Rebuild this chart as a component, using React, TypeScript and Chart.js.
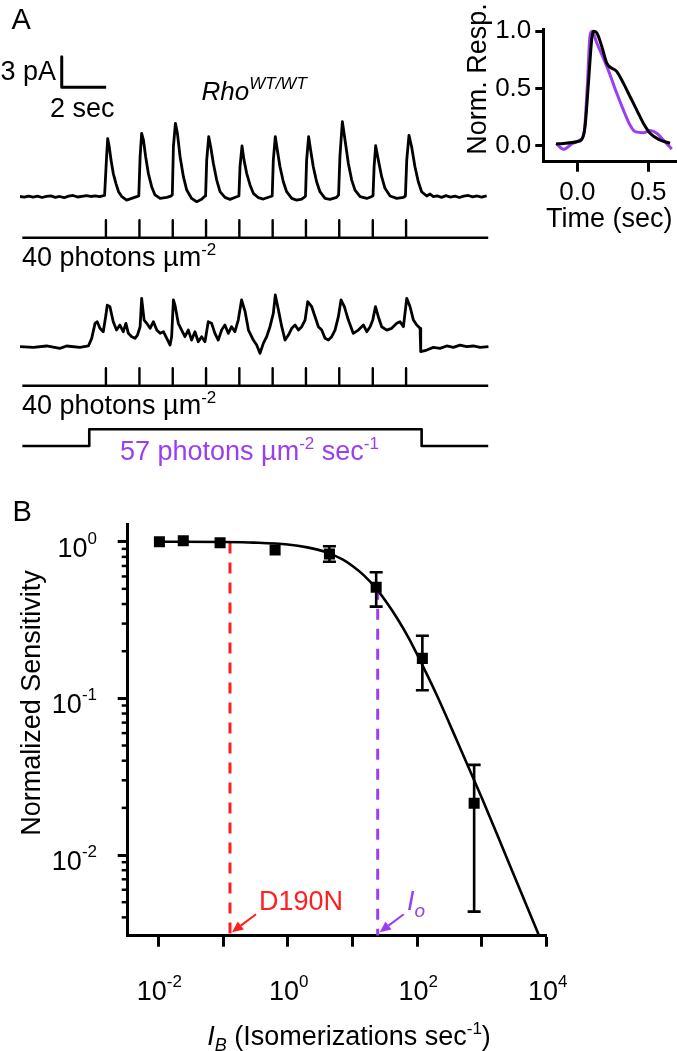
import React, { useEffect, useRef } from "react";
import { Chart, registerables } from "chart.js";
Chart.register(...registerables);

const FONT = "'Liberation Sans', Arial, Helvetica, sans-serif";
const PURPLE = "#9a3ff0";
const RED = "#ff1f1f";

// ---------------- Panel A : flash responses (time in s, current in pA) ----------------
const FLASH_TIMES_S = [3.78, 5.29, 6.79, 8.29, 9.79, 11.29, 12.79, 14.29, 15.8, 17.3];
const STIM_START_S = 0.015;
const STIM_END_S = 21.0;
const STEP_ON_S = 3.03;
const STEP_OFF_S = 18.0;
const SCALE_BAR_PA = 3;
const SCALE_BAR_SEC = 2;

const TRACE_DARK: [number, number][] = [
  [-0.09, 0.02], [0.1, -0.05], [0.3, 0.06], [0.5, -0.04], [0.7, 0.05], [0.9, -0.08], [1.1, 0.03], [1.3, 0.08],
  [1.5, -0.06], [1.7, 0.02], [1.9, -0.1], [2.1, 0.05], [2.3, 0.12], [2.5, -0.03], [2.7, 0.04], [2.9, 0.1],
  [3.1, 0.02], [3.3, 0.08], [3.5, 0.0], [3.72, 0.12],
  [3.81, 3.92], [3.86, 5.69], [3.93, 4.9], [4.01, 3.59], [4.11, 2.29], [4.23, 1.31], [4.35, 0.49], [4.5, 0], [4.71, -0.33], [4.94, -0.17], [5.17, 0],
  [5.26, 0.07], [5.32, 3.92], [5.39, 6.21], [5.47, 5.56], [5.57, 3.92], [5.69, 2.29], [5.84, 0.98], [5.99, 0.17], [6.22, -0.17], [6.52, -0.07], [6.7, 0.05],
  [6.77, 0.17], [6.82, 4.9], [6.91, 7.19], [7.0, 6.21], [7.12, 3.92], [7.27, 1.96], [7.42, 0.65], [7.64, -0.17], [7.87, -0.49], [8.09, -0.26], [8.22, 0.02],
  [8.27, 0.07], [8.32, 3.59], [8.41, 5.88], [8.5, 4.9], [8.62, 3.26], [8.77, 1.63], [8.92, 0.49], [9.14, -0.07], [9.37, -0.26], [9.7, 0.02],
  [9.77, 0.07], [9.82, 2.94], [9.91, 4.97], [10.0, 3.59], [10.12, 2.29], [10.27, 1.15], [10.42, 0.33], [10.65, -0.1], [10.87, -0.23], [11.2, 0.02],
  [11.27, 0.07], [11.32, 3.59], [11.41, 5.88], [11.5, 4.58], [11.62, 2.94], [11.77, 1.47], [11.92, 0.49], [12.15, -0.17], [12.37, -0.33], [12.6, -0.23], [12.72, -0.05],
  [12.77, 0.07], [12.82, 3.59], [12.91, 5.88], [13.0, 4.58], [13.12, 2.94], [13.27, 1.47], [13.42, 0.49], [13.65, -0.17], [13.87, -0.26], [14.17, -0.07],
  [14.26, 0.17], [14.32, 3.92], [14.43, 7.36], [14.55, 5.56], [14.7, 3.26], [14.85, 1.63], [15.0, 0.65], [15.23, 0], [15.53, -0.17], [15.76, 0.02],
  [15.81, 0.1], [15.86, 2.94], [15.93, 5.0], [16.05, 3.59], [16.2, 1.96], [16.35, 0.82], [16.58, 0.07], [16.88, -0.17], [17.18, -0.07],
  [17.27, 0.07], [17.33, 3.59], [17.43, 6.01], [17.55, 4.9], [17.7, 2.94], [17.85, 1.47], [18.0, 0.49], [18.23, 0.07], [18.38, 0.26], [18.53, 0],
  [18.7, 0.08], [18.9, -0.06], [19.1, 0.1], [19.3, -0.04], [19.5, 0.05], [19.7, -0.08], [19.9, 0.06], [20.1, 0.12], [20.3, -0.02], [20.5, 0.07],
  [20.7, -0.05], [20.93, 0.07],
];

const TRACE_BACKGROUND: [number, number][] = [
  [-0.09, 0], [0.51, -0.07], [1.11, 0.07], [1.71, -0.16], [2.01, 0.07], [2.61, -0.07], [2.99, 0.07],
  [3.14, 0.82], [3.29, 2.29], [3.39, 2.45], [3.51, 1.8], [3.66, 1.47], [3.78, 3.1], [3.84, 4.08], [3.96, 3.92],
  [4.11, 2.45], [4.26, 1.63], [4.41, 2.12], [4.56, 1.47], [4.68, 2.29], [4.79, 1.31], [4.94, 0.98], [5.09, 0.82],
  [5.2, 1.14], [5.32, 1.96], [5.39, 4.74], [5.5, 2.61], [5.62, 2.29], [5.77, 1.8], [5.92, 2.45], [6.07, 1.63],
  [6.22, 1.31], [6.37, 1.47], [6.52, 0.82], [6.67, 0.16], [6.74, 0.98], [6.82, 4.58], [6.89, 4.08], [7.04, 2.29],
  [7.19, 1.63], [7.34, 0.98], [7.49, 1.63], [7.64, 0.65], [7.79, 1.47], [7.94, 0.49], [8.09, 0.98], [8.24, 0.49],
  [8.39, 2.45], [8.54, 2.29], [8.69, 1.31], [8.84, 0.65], [8.99, 1.63], [9.14, 2.12], [9.29, 1.31], [9.44, 1.96],
  [9.59, 1.47], [9.74, 2.61], [9.89, 4.58], [10.05, 3.43], [10.2, 1.63], [10.42, 0.65], [10.57, 0.16], [10.72, -0.65],
  [10.87, 0.33], [11.02, 0.98], [11.17, 1.96], [11.32, 3.27], [11.41, 5.07], [11.55, 3.59], [11.7, 1.96], [11.85, 0.65],
  [12.0, 1.14], [12.15, 1.8], [12.3, 2.12], [12.45, 1.63], [12.6, 1.96], [12.75, 2.61], [12.87, 4.41], [13.05, 3.92],
  [13.2, 2.94], [13.35, 1.96], [13.5, 1.63], [13.65, 0.82], [13.8, 0.65], [13.95, 0.98], [14.1, 1.63], [14.25, 2.94],
  [14.37, 4.58], [14.52, 3.92], [14.7, 2.61], [14.92, 1.31], [15.15, 1.63], [15.38, 2.12], [15.53, 1.47], [15.68, 1.96],
  [15.8, 2.61], [15.92, 3.92], [16.05, 2.94], [16.2, 1.96], [16.43, 1.63], [16.65, 1.8], [16.88, 2.29], [17.03, 2.45],
  [17.18, 1.96], [17.33, 4.74], [17.48, 3.92], [17.63, 2.61], [17.78, 2.12], [17.93, 1.8], [17.96, -0.49], [18.23, -0.33],
  [18.53, -0.07], [18.83, -0.16], [19.13, 0.07], [19.43, -0.07], [19.73, 0.16], [20.03, 0], [20.33, 0.07], [20.63, -0.07], [21.01, 0],
];

// ---------------- Panel A inset : normalized responses ----------------
const INSET_T_DARK = [-0.15, -0.098, -0.004, 0.031, 0.054, 0.078, 0.101, 0.113, 0.137, 0.172, 0.207, 0.277, 0.324, 0.371, 0.418, 0.465, 0.512, 0.582, 0.653];
const INSET_R_DARK = [0.015, 0.02, 0.035, 0.056, 0.167, 0.547, 0.927, 1.0, 0.986, 0.868, 0.722, 0.649, 0.547, 0.43, 0.313, 0.196, 0.109, 0.05, 0.021];
const INSET_T_BG = [-0.15, -0.098, -0.039, 0.019, 0.047, 0.07, 0.089, 0.104, 0.137, 0.183, 0.23, 0.277, 0.324, 0.371, 0.406, 0.465, 0.512, 0.559, 0.606, 0.665];
const INSET_R_BG = [0.02, -0.032, 0.015, 0.05, 0.109, 0.518, 0.956, 1.0, 0.898, 0.767, 0.62, 0.46, 0.313, 0.18, 0.123, 0.114, 0.132, 0.109, 0.05, -0.03];
const INSET_X_TICKS = [0, 0.5];
const INSET_Y_TICKS = [0, 0.5, 1.0];

// ---------------- Panel B : sensitivity vs background ----------------
const IB = [0.0104, 0.0243, 0.09, 0.637, 4.4, 23.2, 120, 757];
const SENS = [1.0, 1.015, 0.985, 0.885, 0.835, 0.512, 0.18, 0.0214];
const SENS_HI: (number | null)[] = [null, null, null, null, 0.935, 0.638, 0.251, 0.0376];
const SENS_LO: (number | null)[] = [null, null, null, null, 0.745, 0.385, 0.1127, 0.00435];
const FIT_IB = [0.0104, 0.1, 0.3, 1, 2, 4, 7, 10, 15, 23, 35, 50, 75, 100, 200, 400, 1000, 2000, 4000, 7900];
const FIT_SENS = [1.0, 0.996, 0.987, 0.96, 0.92, 0.855, 0.77, 0.7, 0.61, 0.505, 0.4, 0.32, 0.24, 0.19, 0.105, 0.055, 0.023, 0.0116, 0.0058, 0.00295];
const IB_D190N = 0.128;
const IB_IO = 24.5;
const SENS_AT_D190N = 0.99;
const SENS_AT_IO = 0.5;
const X_TICK_EXP = [-2, -1, 0, 1, 2, 3, 4];
const X_LABEL_EXP = [-2, 0, 2, 4];
const Y_MAJOR_EXP = [0, -1, -2];
const Y_MINOR_MULT = [2, 3, 4, 5, 6, 7, 8, 9];
const X_MIN = 0.003365;
const X_MAX = 10000;
const Y_MIN = 0.003055;
const Y_MAX = 1.297;

type Part = { t: string; size: number; italic?: boolean; dy?: number; color?: string };

function drawParts(
  ctx: CanvasRenderingContext2D,
  parts: Part[],
  x: number,
  y: number,
  align: "left" | "center" | "right" = "left",
  color = "#000"
) {
  ctx.save();
  ctx.textBaseline = "alphabetic";
  ctx.textAlign = "left";
  const fontOf = (p: Part) => `${p.italic ? "italic " : ""}${p.size}px ${FONT}`;
  let total = 0;
  for (const p of parts) {
    ctx.font = fontOf(p);
    total += ctx.measureText(p.t).width;
  }
  let cx = align === "left" ? x : align === "center" ? x - total / 2 : x - total;
  for (const p of parts) {
    ctx.font = fontOf(p);
    ctx.fillStyle = p.color || color;
    ctx.fillText(p.t, cx, y + (p.dy || 0));
    cx += ctx.measureText(p.t).width;
  }
  ctx.restore();
}

function sup(e: number): string {
  return e < 0 ? "-" + Math.abs(e) : String(e);
}

const baseOptions = {
  responsive: false,
  animation: false as const,
  devicePixelRatio: 1,
  events: [] as any[],
  plugins: { legend: { display: false }, tooltip: { enabled: false } },
};

// layout constants of panel A (values on the pA axis)
const PX_PER_PA = 10.2;
const A_TOP = 50;
const A_BOTTOM = 460;
const lvl = (px: number) => (A_BOTTOM - px) / PX_PER_PA;
const OFF_TRACE1 = lvl(196.7);
const STIM1 = lvl(237.7);
const OFF_TRACE2 = lvl(346.7);
const STIM2 = lvl(385.7);
const STIM_H = 17.5 / PX_PER_PA;
const STEP_LO = lvl(446);
const STEP_HI = lvl(429.3);
const BAR_X = 1.79;
const BAR_Y = lvl(87.3);

function stimPoints(level: number) {
  const pts = [{ x: STIM_START_S, y: level }];
  for (const f of FLASH_TIMES_S) {
    pts.push({ x: f, y: level }, { x: f, y: level + STIM_H }, { x: f, y: level });
  }
  pts.push({ x: STIM_END_S, y: level });
  return pts;
}

function makePanelA(canvas: HTMLCanvasElement) {
  const line = (data: any[], color = "#000", width = 2.8) => ({
    data,
    borderColor: color,
    borderWidth: width,
    pointRadius: 0,
    tension: 0,
    fill: false,
    borderJoinStyle: "round" as const,
  });
  const textPlugin = {
    id: "panelAText",
    afterDraw(chart: any) {
      const ctx = chart.ctx as CanvasRenderingContext2D;
      drawParts(ctx, [{ t: "A", size: 29 }], 11.5, 28.5);
      drawParts(ctx, [{ t: "3 pA", size: 27 }], 56, 80, "right");
      drawParts(ctx, [{ t: "2 sec", size: 27 }], 50, 116.5);
      drawParts(ctx, [{ t: "Rho", size: 26, italic: true }, { t: "WT/WT", size: 17, italic: true, dy: -11 }], 201.5, 100);
      const photons: Part[] = [{ t: "40 photons µm", size: 27 }, { t: "-2", size: 17, dy: -11 }];
      drawParts(ctx, photons, 22, 266);
      drawParts(ctx, photons, 22, 414);
      drawParts(
        ctx,
        [
          { t: "57 photons µm", size: 27 },
          { t: "-2", size: 17, dy: -11 },
          { t: " sec", size: 27 },
          { t: "-1", size: 17, dy: -11 },
        ],
        120,
        460,
        "left",
        PURPLE
      );
    },
  };
  return new Chart(canvas, {
    type: "line",
    data: {
      datasets: [
        line(TRACE_DARK.map(([t, v]) => ({ x: t, y: v + OFF_TRACE1 }))),
        line(stimPoints(STIM1), "#000", 2.4),
        line(TRACE_BACKGROUND.map(([t, v]) => ({ x: t, y: v + OFF_TRACE2 }))),
        line(stimPoints(STIM2), "#000", 2.4),
        line(
          [
            { x: STIM_START_S, y: STEP_LO },
            { x: STEP_ON_S, y: STEP_LO },
            { x: STEP_ON_S, y: STEP_HI },
            { x: STEP_OFF_S, y: STEP_HI },
            { x: STEP_OFF_S, y: STEP_LO },
            { x: STIM_END_S, y: STEP_LO },
          ],
          "#000",
          2.6
        ),
        line(
          [
            { x: BAR_X, y: BAR_Y + SCALE_BAR_PA },
            { x: BAR_X, y: BAR_Y },
            { x: BAR_X + SCALE_BAR_SEC, y: BAR_Y },
          ],
          "#000",
          3
        ),
      ],
    },
    options: {
      ...baseOptions,
      layout: { padding: { left: 20, right: 10, top: A_TOP, bottom: 480 - A_BOTTOM } },
      scales: {
        x: { type: "linear", display: false, min: -0.09, max: 21.08 },
        y: { type: "linear", display: false, min: 0, max: (A_BOTTOM - A_TOP) / PX_PER_PA },
      },
    },
    plugins: [textPlugin],
  } as any);
}

function makeInset(canvas: HTMLCanvasElement) {
  const textPlugin = {
    id: "insetText",
    afterDraw(chart: any) {
      const ctx = chart.ctx as CanvasRenderingContext2D;
      drawParts(ctx, [{ t: "Time (sec)", size: 27 }], 106, 226.5);
      ctx.save();
      ctx.translate(46, 79);
      ctx.rotate(-Math.PI / 2);
      drawParts(ctx, [{ t: "Norm. Resp.", size: 27 }], 0, 0, "center");
      ctx.restore();
    },
  };
  const axisCommon = {
    grid: { drawOnChartArea: false, drawTicks: true, tickWidth: 3, tickColor: "#000" },
    border: { display: true, width: 3, color: "#000" },
  };
  return new Chart(canvas, {
    type: "line",
    data: {
      datasets: [
        {
          data: INSET_T_DARK.map((t, i) => ({ x: t, y: INSET_R_DARK[i] })),
          borderColor: "#000",
          borderWidth: 3,
          pointRadius: 0,
          cubicInterpolationMode: "monotone",
        },
        {
          data: INSET_T_BG.map((t, i) => ({ x: t, y: INSET_R_BG[i] })),
          borderColor: PURPLE,
          borderWidth: 3,
          pointRadius: 0,
          cubicInterpolationMode: "monotone",
        },
      ],
    },
    options: {
      ...baseOptions,
      layout: { padding: { left: 3.3, right: 0.3, top: 29, bottom: 38.3 } },
      scales: {
        x: {
          type: "linear",
          min: -0.24,
          max: 0.7,
          afterBuildTicks: (s: any) => {
            s.ticks = INSET_X_TICKS.map((v) => ({ value: v }));
          },
          afterFit: (s: any) => {
            s.height = 40;
          },
          grid: { ...axisCommon.grid, tickLength: 10 },
          border: axisCommon.border,
          ticks: {
            autoSkip: false,
            maxRotation: 0,
            padding: 6,
            color: "#000",
            font: { family: FONT, size: 26 },
            callback: (v: any) => Number(v).toFixed(1),
          },
        },
        y: {
          type: "linear",
          min: -0.14,
          max: 1.02,
          afterBuildTicks: (s: any) => {
            s.ticks = INSET_Y_TICKS.map((v) => ({ value: v }));
          },
          afterFit: (s: any) => {
            s.width = 100;
          },
          grid: { ...axisCommon.grid, tickLength: 8 },
          border: axisCommon.border,
          ticks: {
            autoSkip: false,
            padding: 4,
            color: "#000",
            font: { family: FONT, size: 26 },
            callback: (v: any) => Number(v).toFixed(1),
          },
        },
      },
    },
    plugins: [textPlugin],
  } as any);
}

function makePanelB(canvas: HTMLCanvasElement) {
  const decorPlugin = {
    id: "panelBDecor",
    afterDatasetsDraw(chart: any) {
      const ctx = chart.ctx as CanvasRenderingContext2D;
      const xs = chart.scales.x;
      const ys = chart.scales.y;
      ctx.save();
      ctx.strokeStyle = "#000";
      ctx.lineWidth = 2.6;
      IB.forEach((ib, i) => {
        const hi = SENS_HI[i];
        const lo = SENS_LO[i];
        if (hi == null || lo == null) return;
        const x = xs.getPixelForValue(ib);
        const yh = ys.getPixelForValue(hi);
        const yl = ys.getPixelForValue(lo);
        ctx.beginPath();
        ctx.moveTo(x, yh);
        ctx.lineTo(x, yl);
        ctx.moveTo(x - 6.5, yh);
        ctx.lineTo(x + 6.5, yh);
        ctx.moveTo(x - 6.5, yl);
        ctx.lineTo(x + 6.5, yl);
        ctx.stroke();
      });
      ctx.restore();
    },
    afterDraw(chart: any) {
      const ctx = chart.ctx as CanvasRenderingContext2D;
      const xs = chart.scales.x;
      const ys = chart.scales.y;
      const area = chart.chartArea;
      // minor y ticks
      ctx.save();
      ctx.strokeStyle = "#000";
      ctx.lineWidth = 2.5;
      for (const e of [-3, -2, -1, 0]) {
        for (const m of Y_MINOR_MULT) {
          const v = m * Math.pow(10, e);
          if (v < Y_MIN || v > Y_MAX) continue;
          const y = ys.getPixelForValue(v);
          ctx.beginPath();
          ctx.moveTo(area.left - 6, y);
          ctx.lineTo(area.left, y);
          ctx.stroke();
        }
      }
      ctx.restore();
      // tick labels
      for (const e of Y_MAJOR_EXP) {
        const y = ys.getPixelForValue(Math.pow(10, e));
        drawParts(ctx, [{ t: "10", size: 27 }, { t: sup(e), size: 17, dy: -13 }], 97, y + 15, "right");
      }
      for (const e of X_LABEL_EXP) {
        const x = xs.getPixelForValue(Math.pow(10, e));
        drawParts(ctx, [{ t: "10", size: 27 }, { t: sup(e), size: 17, dy: -13 }], x + 1, 510, "center");
      }
      // titles
      drawParts(ctx, [{ t: "B", size: 29 }], 12.5, 30.5);
      drawParts(
        ctx,
        [
          { t: "I", size: 27, italic: true },
          { t: "B", size: 18, italic: true, dy: 6 },
          { t: " (Isomerizations sec", size: 27 },
          { t: "-1", size: 17, dy: -11 },
          { t: ")", size: 27 },
        ],
        349,
        555,
        "center"
      );
      ctx.save();
      ctx.translate(40, 213);
      ctx.rotate(-Math.PI / 2);
      drawParts(ctx, [{ t: "Normalized Sensitivity", size: 27 }], 0, 0, "center");
      ctx.restore();
      // arrows + annotations
      const arrow = (xv: number, color: string) => {
        const tipX = xs.getPixelForValue(xv) + 2;
        const tipY = area.bottom - 3.5;
        const tailX = tipX + 24;
        const tailY = tipY - 18;
        const ang = Math.atan2(tipY - tailY, tipX - tailX);
        const hl = 11;
        const hw = 5;
        const bx = tipX - hl * Math.cos(ang);
        const by = tipY - hl * Math.sin(ang);
        ctx.save();
        ctx.strokeStyle = color;
        ctx.fillStyle = color;
        ctx.lineWidth = 2;
        ctx.beginPath();
        ctx.moveTo(tailX, tailY);
        ctx.lineTo(bx, by);
        ctx.stroke();
        ctx.beginPath();
        ctx.moveTo(tipX, tipY);
        ctx.lineTo(bx + hw * Math.sin(ang), by - hw * Math.cos(ang));
        ctx.lineTo(bx - hw * Math.sin(ang), by + hw * Math.cos(ang));
        ctx.closePath();
        ctx.fill();
        ctx.restore();
      };
      arrow(IB_D190N, RED);
      arrow(IB_IO, PURPLE);
      drawParts(ctx, [{ t: "D190N", size: 27 }], 259, 420, "left", RED);
      drawParts(
        ctx,
        [
          { t: "I", size: 27, italic: true },
          { t: "o", size: 19, italic: true, dy: 7 },
        ],
        407,
        420,
        "left",
        PURPLE
      );
    },
  };
  const axisGrid = { drawOnChartArea: false, drawTicks: true, tickWidth: 3, tickColor: "#000" };
  const axisBorder = { display: true, width: 3, color: "#000" };
  return new Chart(canvas, {
    type: "line",
    data: {
      datasets: [
        {
          data: IB.map((x, i) => ({ x, y: SENS[i] })),
          showLine: false,
          pointStyle: "rect",
          pointRadius: 7.8,
          backgroundColor: "#000",
          borderColor: "#000",
          borderWidth: 0,
        },
        {
          data: FIT_IB.map((x, i) => ({ x, y: FIT_SENS[i] })),
          borderColor: "#000",
          borderWidth: 2.6,
          pointRadius: 0,
          cubicInterpolationMode: "monotone",
        },
        {
          data: [
            { x: IB_D190N, y: SENS_AT_D190N },
            { x: IB_D190N, y: Y_MIN },
          ],
          borderColor: RED,
          borderWidth: 3,
          borderDash: [11, 9],
          pointRadius: 0,
        },
        {
          data: [
            { x: IB_IO, y: SENS_AT_IO },
            { x: IB_IO, y: Y_MIN },
          ],
          borderColor: PURPLE,
          borderWidth: 3,
          borderDash: [11, 9],
          pointRadius: 0,
        },
      ],
    },
    options: {
      ...baseOptions,
      layout: { padding: { left: 107.7, right: 130.3, top: 34, bottom: 95.3 } },
      scales: {
        x: {
          type: "logarithmic",
          min: X_MIN,
          max: X_MAX,
          afterBuildTicks: (s: any) => {
            s.ticks = X_TICK_EXP.map((e) => ({ value: Math.pow(10, e) }));
          },
          afterFit: (s: any) => {
            s.height = 20;
          },
          grid: { ...axisGrid, tickLength: 11 },
          border: axisBorder,
          ticks: { display: false },
        },
        y: {
          type: "logarithmic",
          min: Y_MIN,
          max: Y_MAX,
          afterBuildTicks: (s: any) => {
            s.ticks = Y_MAJOR_EXP.map((e) => ({ value: Math.pow(10, e) }));
          },
          afterFit: (s: any) => {
            s.width = 20;
          },
          grid: { ...axisGrid, tickLength: 10 },
          border: axisBorder,
          ticks: { display: false },
        },
      },
    },
    plugins: [decorPlugin],
  } as any);
}

export default function App() {
  const aRef = useRef<HTMLCanvasElement>(null);
  const insetRef = useRef<HTMLCanvasElement>(null);
  const bRef = useRef<HTMLCanvasElement>(null);

  useEffect(() => {
    const charts: Chart[] = [];
    if (aRef.current) charts.push(makePanelA(aRef.current));
    if (insetRef.current) charts.push(makeInset(insetRef.current));
    if (bRef.current) charts.push(makePanelB(bRef.current));
    return () => charts.forEach((c) => c.destroy());
  }, []);

  const abs = (left: number, top: number, width: number, height: number): React.CSSProperties => ({
    position: "absolute",
    left,
    top,
    width,
    height,
  });

  return (
    <div style={{ position: "absolute", left: 0, top: 0, width: 677, height: 1051, background: "#fff", overflow: "hidden" }}>
      <canvas ref={aRef} width={500} height={480} style={abs(0, 0, 500, 480)} />
      <canvas ref={insetRef} width={237} height={240} style={abs(440, 0, 237, 240)} />
      <canvas ref={bRef} width={677} height={561} style={abs(0, 490, 677, 561)} />
    </div>
  );
}
